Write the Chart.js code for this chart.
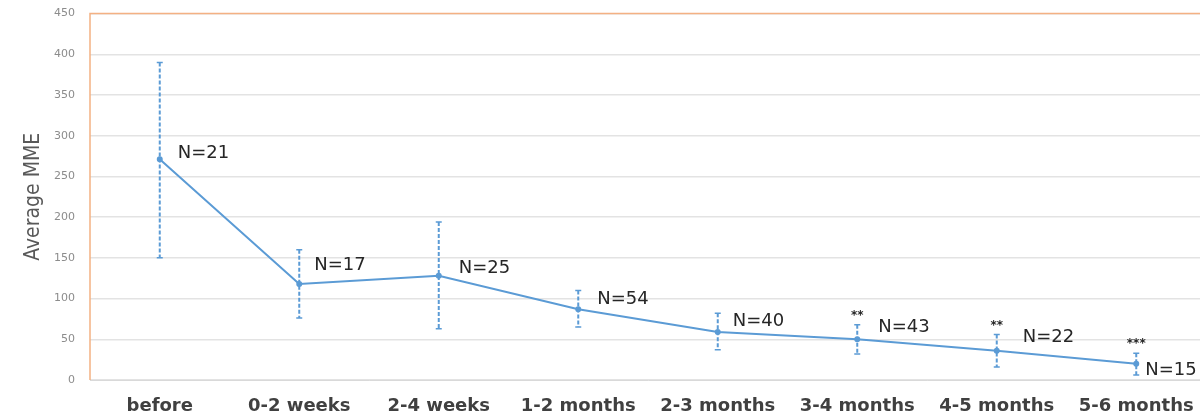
<!DOCTYPE html>
<html><head><meta charset="utf-8">
<script src="https://cdn.jsdelivr.net/npm/chart.js@4.4.1/dist/chart.umd.min.js"></script>
<style>html,body{margin:0;padding:0;background:#fff;overflow:hidden}#wrap{width:1200px;height:414px;overflow:hidden}#c{display:block;margin-top:-8px}</style>
</head><body><div id="wrap"><canvas id="c" width="1210" height="422"></canvas></div>
<script>
const categories = ["before","0-2 weeks","2-4 weeks","1-2 months","2-3 months","3-4 months","4-5 months","5-6 months"];
const meanMME = [271,118,128,87,59,50,36,20];
const errUpper = [390,160,194,110,82,68,56,33];
const errLower = [150,76,63,65,37,32,16,6];
const nLabels = ["N=21","N=17","N=25","N=54","N=40","N=43","N=22","N=15"];
const starLabels = ["","","","","","**","**","***"];
const yTicks = [0,50,100,150,200,250,300,350,400,450];

const blue = "#5b9bd5";

const extras = {
  id: "extras",
  beforeDatasetsDraw(chart) {
    const {ctx, scales: {x, y}} = chart;
    ctx.save();
    ctx.strokeStyle = blue;
    categories.forEach((c, i) => {
      const px = x.getPixelForValue(i);
      const yt = y.getPixelForValue(errUpper[i]);
      const yb = y.getPixelForValue(errLower[i]);
      ctx.lineWidth = 2;
      ctx.setLineDash([4, 2]);
      ctx.beginPath(); ctx.moveTo(px, yt); ctx.lineTo(px, yb); ctx.stroke();
      ctx.setLineDash([]);
      ctx.lineWidth = 1.5;
      ctx.beginPath();
      ctx.moveTo(px - 3, yt); ctx.lineTo(px + 3, yt);
      ctx.moveTo(px - 3, yb); ctx.lineTo(px + 3, yb);
      ctx.stroke();
    });
    ctx.restore();
  },
  afterDraw(chart) {
    const {ctx, chartArea: a, scales: {x, y}} = chart;
    ctx.save();
    ctx.strokeStyle = "#f4b183";
    ctx.lineWidth = 1.5;
    ctx.beginPath();
    ctx.moveTo(a.left, a.bottom); ctx.lineTo(a.left, a.top); ctx.lineTo(a.right, a.top);
    ctx.stroke();
    ctx.fillStyle = "#262626";
    ctx.font = "18px 'DejaVu Sans'";
    ctx.textBaseline = "middle";
    ctx.textAlign = "left";
    const offs = [[18,-6],[15,-19],[20,-7],[19,-10],[15,-11],[21,-12],[26,-13],[9,7]];
    categories.forEach((c, i) => {
      const px = x.getPixelForValue(i);
      const py = y.getPixelForValue(meanMME[i]);
      ctx.fillText(nLabels[i], px + offs[i][0], py + offs[i][1]);
    });
    ctx.font = "bold 12px 'DejaVu Sans'";
    ctx.textAlign = "center";
    categories.forEach((c, i) => {
      if (!starLabels[i]) return;
      const px = x.getPixelForValue(i);
      const py = y.getPixelForValue(errUpper[i]);
      ctx.fillText(starLabels[i], px, py - 9);
    });
    ctx.restore();
  }
};

new Chart(document.getElementById("c"), {
  type: "line",
  data: {
    labels: categories,
    datasets: [{
      data: meanMME,
      borderColor: blue,
      backgroundColor: blue,
      borderWidth: 2,
      pointRadius: 2,
      pointHoverRadius: 2,
      tension: 0
    }]
  },
  options: {
    responsive: false,
    animation: false,
    devicePixelRatio: 1,
    layout: {padding: {top: 0, right: 0, left: 0, bottom: 0}},
    plugins: {legend: {display: false}, tooltip: {enabled: false}},
    scales: {
      x: {
        offset: true,
        grid: {display: false, drawTicks: false},
        border: {display: true, color: "#d9d9d9"},
        ticks: {color: "#404040", font: {family: "'DejaVu Sans'", size: 18, weight: "bold"}, padding: 16, maxRotation: 0, autoSkip: false},
        afterFit(s) { s.height = 34; }
      },
      y: {
        min: 0, max: 450,
        afterBuildTicks(s) { s.ticks = yTicks.map(v => ({value: v})); },
        grid: {color: "#e3e3e3", lineWidth: 1.5, drawTicks: false},
        border: {display: false},
        ticks: {color: "#8c8c8c", font: {family: "'DejaVu Sans'", size: 11}, padding: 15},
        title: {display: true, text: "Average MME", color: "#595959", font: {family: "'DejaVu Sans Condensed', 'Liberation Sans Narrow', 'DejaVu Sans'", size: 21, weight: "300"}, padding: {top: 21, bottom: 0}},
        afterFit(s) { s.width = 90; }
      }
    }
  },
  plugins: [extras]
});
</script>
</body></html>
